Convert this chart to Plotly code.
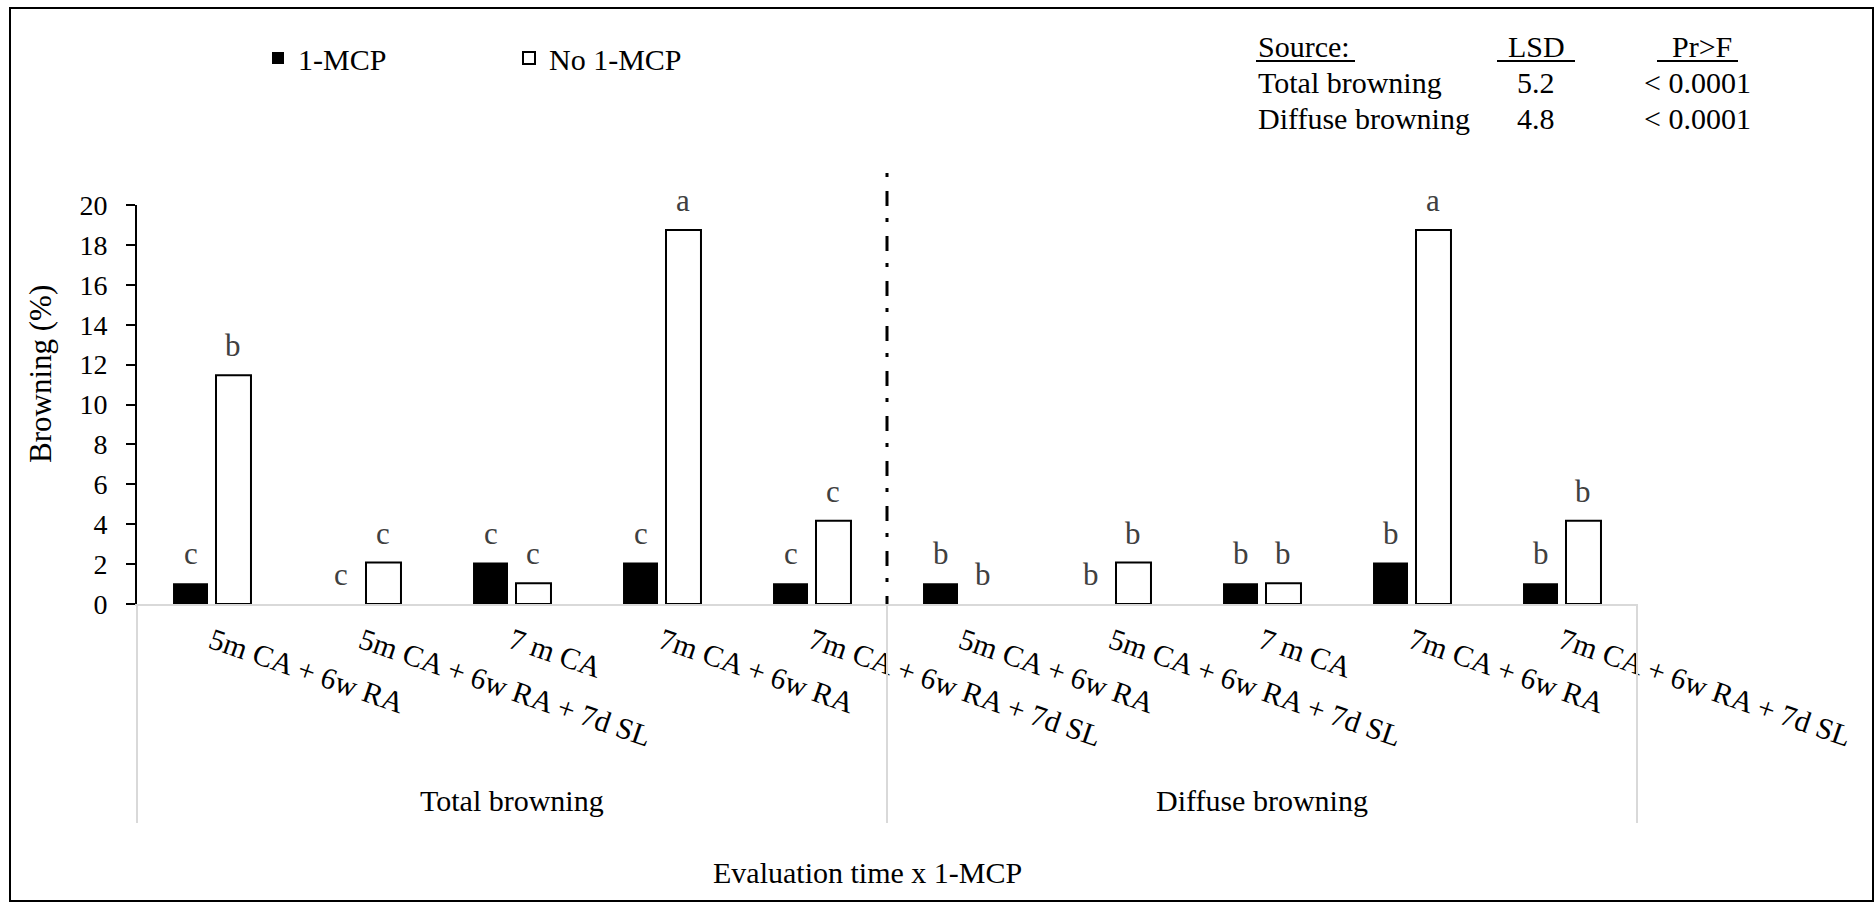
import plotly.graph_objects as go

# ---- data -------------------------------------------------------------
stages = [
    "5m CA + 6w RA",
    "5m CA + 6w RA + 7d SL",
    "7 m CA",
    "7m CA + 6w RA",
    "7m CA + 6w RA + 7d SL",
]
groups = ["Total browning", "Diffuse browning"]
tick_labels = stages + stages

with_mcp = [1.04, 0.0, 2.08, 2.08, 1.04, 1.04, 0.0, 1.04, 2.08, 1.04]
without_mcp = [11.46, 2.08, 1.04, 18.75, 4.17, 0.0, 2.08, 1.04, 18.75, 4.17]

letters_mcp = ["c", "c", "c", "c", "c", "b", "b", "b", "b", "b"]
letters_no = ["b", "c", "c", "a", "c", "b", "b", "b", "a", "b"]

stat_header = ["Source:", "LSD", "Pr>F"]
stat_rows = [
    ["Total browning", "5.2", "< 0.0001"],
    ["Diffuse browning", "4.8", "< 0.0001"],
]

# ---- layout geometry --------------------------------------------------
W, H = 1876, 906
L, R, T, B = 137, 1637, 205, 604          # plot area in pixels
FONT = "Liberation Serif, Times New Roman, serif"
BARGAP = 0.427
BARGROUPGAP = 0.186


def px_x(px):
    return (px - L) / (R - L)


def px_y(py):
    return (B - py) / (B - T)


xs = list(range(len(tick_labels)))

fig = go.Figure()
fig.add_trace(go.Bar(
    x=xs, y=with_mcp, name="1-MCP",
    marker=dict(color="black", line=dict(color="black", width=0)),
))
# outline only where a bar actually has height
fig.add_trace(go.Bar(
    x=xs, y=without_mcp, name="No 1-MCP",
    marker=dict(color="white",
                line=dict(color="black",
                          width=[2 if v > 0 else 0 for v in without_mcp])),
))

annotations = []

# significance letters above each bar
half = (1 - BARGAP) / 4
for i in xs:
    for dx, val, let in ((-half, with_mcp[i], letters_mcp[i]),
                         (half, without_mcp[i], letters_no[i])):
        annotations.append(dict(
            x=i + dx, y=val, xref="x", yref="y", text=let, showarrow=False,
            xanchor="center", yanchor="bottom", yshift=10,
            font=dict(family=FONT, size=31, color="#404040"),
        ))

# group labels under the category labels
for gi, g in enumerate(groups):
    annotations.append(dict(
        x=gi * 5 + 2, y=px_y(800), xref="x", yref="paper", text=g,
        showarrow=False, xanchor="center", yanchor="middle",
        font=dict(family=FONT, size=30, color="black"),
    ))

# axis titles
annotations.append(dict(
    x=px_x(867), y=px_y(872), xref="paper", yref="paper",
    text="Evaluation time x 1-MCP", showarrow=False,
    xanchor="center", yanchor="middle",
    font=dict(family=FONT, size=30, color="black"),
))
annotations.append(dict(
    x=px_x(40), y=px_y(374), xref="paper", yref="paper",
    text="Browning (%)", showarrow=False, textangle=-90,
    xanchor="center", yanchor="middle",
    font=dict(family=FONT, size=31, color="black"),
))

# statistics table
col_x = [1256, 1536, 1697]
col_anchor = ["left", "center", "center"]
row_y = [46, 83, 119]
table = [stat_header] + stat_rows
for r, row in enumerate(table):
    for c, txt in enumerate(row):
        xp = col_x[c]
        if r == 0 and c == 2:
            xp = 1702
        annotations.append(dict(
            x=px_x(xp), y=px_y(row_y[r]), xref="paper", yref="paper",
            text=txt, showarrow=False, xanchor=col_anchor[c], yanchor="middle",
            font=dict(family=FONT, size=30, color="black"),
        ))

shapes = []
# header underlines
for x0, x1 in ((1256, 1355), (1497, 1575), (1657, 1738)):
    shapes.append(dict(
        type="line", xref="paper", yref="paper",
        x0=px_x(x0), x1=px_x(x1), y0=px_y(61), y1=px_y(61),
        line=dict(color="black", width=2),
    ))

# category group dividers below the axis
for xp in (0.0, 0.5, 1.0):
    shapes.append(dict(
        type="line", xref="paper", yref="paper",
        x0=xp, x1=xp, y0=0, y1=px_y(823),
        line=dict(color="#d9d9d9", width=2),
    ))

# dash-dot separator between the two browning types
shapes.append(dict(
    type="line", xref="x", yref="paper",
    x0=4.5, x1=4.5, y0=px_y(173), y1=0,
    line=dict(color="black", width=3, dash="4px,14px,15px,12px"),
))

# outer frame
shapes.append(dict(
    type="rect", xref="paper", yref="paper",
    x0=px_x(10), x1=px_x(1873), y0=px_y(8), y1=px_y(901),
    line=dict(color="black", width=2), fillcolor="rgba(0,0,0,0)",
))

fig.update_layout(
    width=W, height=H,
    margin=dict(l=L, r=W - R, t=T, b=H - B, autoexpand=False),
    paper_bgcolor="white", plot_bgcolor="white",
    barmode="group", bargap=BARGAP, bargroupgap=BARGROUPGAP,
    font=dict(family=FONT, size=28, color="black"),
    showlegend=True,
    legend=dict(
        orientation="h", xref="container", yref="container",
        x=258 / W, y=1 - 58 / H, xanchor="left", yanchor="middle",
        font=dict(family=FONT, size=30, color="black"),
        entrywidth=206, itemwidth=30, bgcolor="rgba(0,0,0,0)",
    ),
    xaxis=dict(
        range=[-0.5, 9.5], tickmode="array", tickvals=xs, ticktext=tick_labels,
        tickangle=19, showline=True, linecolor="#d9d9d9", linewidth=2,
        ticks="", showgrid=False, zeroline=False, automargin=False,
        tickfont=dict(family=FONT, size=30, color="black"),
        ticklabelstandoff=6,
    ),
    yaxis=dict(
        range=[0, 20], tickmode="linear", tick0=0, dtick=2,
        showline=True, linecolor="black", linewidth=2,
        ticks="outside", ticklen=9, tickwidth=2, tickcolor="black",
        showgrid=False, zeroline=False, automargin=False,
        tickfont=dict(family=FONT, size=28, color="black"),
        ticklabelstandoff=13,
    ),
    annotations=annotations,
    shapes=shapes,
)

fig.write_html("out.html")
